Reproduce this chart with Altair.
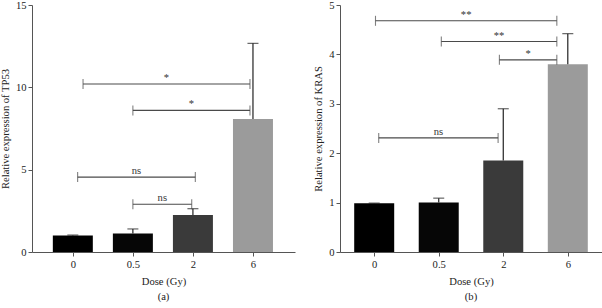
import altair as alt
import pandas as pd

doses = ["0", "0.5", "2", "6"]
bar_colors = ["#000000", "#060606", "#3a3a3a", "#9b9b9b"]

tp53_mean = [1.0, 1.12, 2.25, 8.07]
tp53_err = [0.03, 0.28, 0.38, 4.6]
kras_mean = [0.985, 1.0, 1.85, 3.8]
kras_err = [0.005, 0.09, 1.05, 0.62]

# brackets: label, start index, end index, height
tp53_br_label = ["*", "*", "ns", "ns"]
tp53_br_x1 = [0.17, 1.0, 0.08, 1.0]
tp53_br_x2 = [2.95, 2.95, 2.04, 1.98]
tp53_br_y = [10.2, 8.6, 4.55, 2.9]

kras_br_label = ["**", "**", "*", "ns"]
kras_br_x1 = [0.02, 1.04, 1.94, 0.07]
kras_br_x2 = [2.83, 2.83, 2.83, 1.92]
kras_br_y = [4.68, 4.26, 3.89, 2.31]

FONT = "Liberation Serif"
FS = 10.6
LINE = "#4a4a4a"


def panel(mean, err, bl, bx1, bx2, by, ydom, yvals, ytitle, xdom, width, sub):
    df = pd.DataFrame({
        "pos": list(range(len(doses))),
        "dose": doses,
        "mean": mean,
        "top": [m + e for m, e in zip(mean, err)],
        "color": bar_colors,
    })
    br = pd.DataFrame({"label": bl, "x1": bx1, "x2": bx2, "y": by})
    br["mid"] = (br["x1"] + br["x2"]) / 2
    ends = pd.DataFrame({"x": bx1 + bx2, "y": by + by})

    labels = "[" + ",".join("'%s'" % d for d in doses) + "]"
    xs = alt.Scale(domain=xdom, nice=False, zero=False, padding=0)
    ys = alt.Scale(domain=ydom, nice=False, padding=0)
    xax = alt.Axis(values=list(range(len(doses))), labelExpr=labels + "[datum.value]",
                   title="Dose (Gy)", tickSize=4, labelPadding=3, titlePadding=7)
    yax = alt.Axis(values=yvals, title=ytitle, tickSize=4, labelPadding=2, titlePadding=5)

    bars = alt.Chart(df).mark_bar(size=40).encode(
        x=alt.X("pos:Q", scale=xs, axis=xax),
        y=alt.Y("mean:Q", scale=ys, axis=yax),
        color=alt.Color("color:N", scale=None),
    )
    ebar = alt.Chart(df).mark_rule(color="#222222", strokeWidth=1.2).encode(
        x="pos:Q", y="mean:Q", y2="top:Q")
    ecap = alt.Chart(df).mark_tick(orient="horizontal", size=11, thickness=1.2,
                                   color="#222222").encode(x="pos:Q", y="top:Q")
    bline = alt.Chart(br).mark_rule(color=LINE, strokeWidth=1.1).encode(
        x="x1:Q", x2="x2:Q", y="y:Q")
    bcap = alt.Chart(ends).mark_tick(orient="vertical", size=10, thickness=1.1,
                                     color=LINE).encode(x="x:Q", y="y:Q")
    btxt = alt.Chart(br).mark_text(font=FONT, fontSize=FS, baseline="bottom", dy=-1,
                                   color="#333333").encode(
        x="mid:Q", y="y:Q", text="label:N")

    return alt.layer(bars, ebar, ecap, bline, bcap, btxt).properties(
        width=width, height=247,
        title=alt.TitleParams(sub, orient="bottom", font=FONT, fontSize=FS,
                              fontWeight="normal", color="#222222", offset=5),
    )


left = panel(tp53_mean, tp53_err, tp53_br_label, tp53_br_x1, tp53_br_x2, tp53_br_y,
             [0, 15], [0, 5, 10, 15], "Relative expression of TP53",
             [-0.68, 3.7], 263, "(a)")
right = panel(kras_mean, kras_err, kras_br_label, kras_br_x1, kras_br_x2, kras_br_y,
              [0, 5], [0, 1, 2, 3, 4, 5], "Relative expression of KRAS",
              [-0.53, 3.53], 262, "(b)")

chart = alt.hconcat(left, right, spacing=18).properties(padding=0).configure_axis(
    labelFont=FONT, titleFont=FONT, labelFontSize=FS, titleFontSize=FS,
    titleFontWeight="normal", domainColor="#555555", tickColor="#555555",
    labelColor="#222222", titleColor="#222222", grid=False,
).configure_view(stroke=None)

chart.save("out.html", embed_options={"renderer": "svg", "actions": False})
